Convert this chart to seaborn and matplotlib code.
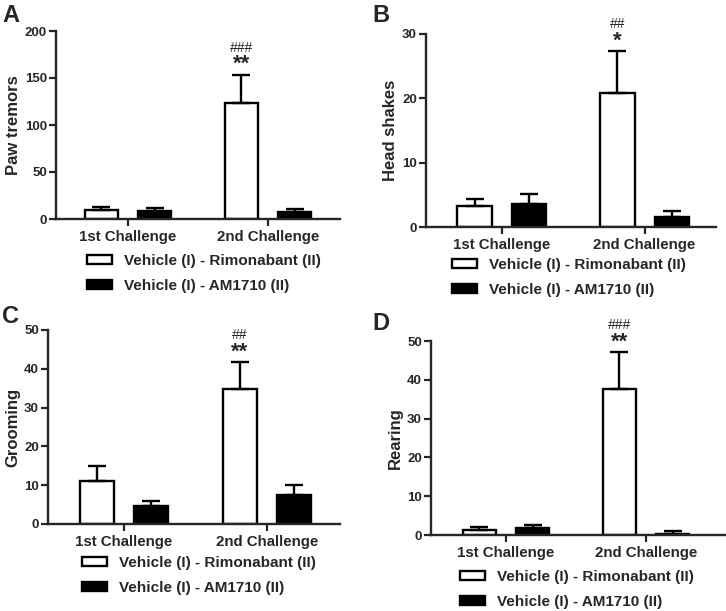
import matplotlib
matplotlib.use("Agg")
import matplotlib.pyplot as plt
import seaborn as sns
import pandas as pd
import numpy as np

categories = ["1st Challenge", "2nd Challenge"]
groups = ["Vehicle (I) - Rimonabant (II)", "Vehicle (I) - AM1710 (II)"]

paw_rim = [9.6, 123.5]
paw_rim_err = [3.2, 30.0]
paw_am = [8.5, 7.4]
paw_am_err = [3.2, 2.9]

head_rim = [3.3, 20.9]
head_rim_err = [1.1, 6.4]
head_am = [3.5, 1.5]
head_am_err = [1.6, 1.0]

groom_rim = [11.2, 34.8]
groom_rim_err = [3.8, 6.9]
groom_am = [4.7, 7.5]
groom_am_err = [1.3, 2.5]

rear_rim = [1.2, 37.6]
rear_rim_err = [0.9, 9.5]
rear_am = [1.9, 0.35]
rear_am_err = [0.8, 0.6]

sig_stars = ["**", "*", "**", "**"]
sig_hash = ["###", "##", "##", "###"]

panels = [
    ("A", "Paw tremors", paw_rim, paw_rim_err, paw_am, paw_am_err, 200, [0, 50, 100, 150, 200]),
    ("B", "Head shakes", head_rim, head_rim_err, head_am, head_am_err, 30, [0, 10, 20, 30]),
    ("C", "Grooming", groom_rim, groom_rim_err, groom_am, groom_am_err, 50, [0, 10, 20, 30, 40, 50]),
    ("D", "Rearing", rear_rim, rear_rim_err, rear_am, rear_am_err, 50, [0, 10, 20, 30, 40, 50]),
]

sns.set_style("ticks")
plt.rcParams["font.family"] = ["Liberation Sans", "DejaVu Sans"]
plt.rcParams["font.weight"] = "bold"
plt.rcParams["axes.labelweight"] = "bold"

W, H = 726, 611
fig = plt.figure(figsize=(W / 100, H / 100), dpi=100)

# axes boxes in pixels: left, right, top, bottom
boxes = [(56, 340, 31, 219), (426, 716, 34, 227), (48, 340, 330, 524), (431, 725, 341, 535)]
xlims = [(-0.514, 1.514), (-0.53, 1.50), (-0.53, 1.51), (-0.536, 1.564)]
legend_pos = [(87, 254), (452, 258), (82, 556), (460, 570)]
letter_pos = [(2, 4), (372, 4), (2, 305), (372, 312)]

palette = {groups[0]: "white", groups[1]: "black"}

for i, (letter, ylabel, rim, rim_err, am, am_err, ymax, yticks) in enumerate(panels):
    l, r, t, b = boxes[i]
    ax = fig.add_axes([l / W, 1 - b / H, (r - l) / W, (b - t) / H])
    df = pd.DataFrame({
        "challenge": categories * 2,
        "group": [groups[0]] * 2 + [groups[1]] * 2,
        "value": list(rim) + list(am),
    })
    sns.barplot(data=df, x="challenge", y="value", hue="group", order=categories,
                hue_order=groups, palette=palette, errorbar=None, width=0.76, gap=0.37,
                edgecolor="black", linewidth=1.7, ax=ax)
    errs = [rim_err, am_err]
    top_rim = None
    bar_conts = list(ax.containers)
    for k, cont in enumerate(bar_conts):
        xs = [p.get_x() + p.get_width() / 2 for p in cont.patches]
        hs = [p.get_height() for p in cont.patches]
        e = np.array(errs[k])
        ax.errorbar(xs, hs, yerr=[np.zeros_like(e), e], fmt="none", ecolor="black",
                    elinewidth=1.7, capsize=6.5, capthick=1.7, zorder=1)
        if k == 0:
            top_rim = (xs[1], hs[1] + e[1])
    # significance markers
    ax.annotate(sig_stars[i], xy=top_rim, xytext=(0, 7.5), textcoords="offset points",
                ha="center", va="center", fontsize=16, fontweight="bold",
                annotation_clip=False)
    ax.annotate(sig_hash[i], xy=top_rim, xytext=(0, 19.5), textcoords="offset points",
                ha="center", va="center", fontsize=10, fontweight="normal",
                annotation_clip=False)

    ax.set_ylim(0, ymax)
    ax.set_xlim(*xlims[i])
    ax.set_yticks(yticks)
    ax.set_xlabel("")
    ax.set_ylabel(ylabel, fontsize=12, fontweight="bold", labelpad=3)
    ax.tick_params(axis="y", labelsize=9.5, width=1.6, length=5, pad=1.5)
    ax.tick_params(axis="x", labelsize=10.8, width=1.6, length=5, pad=3)
    for lab in ax.get_xticklabels() + ax.get_yticklabels():
        lab.set_fontweight("bold")
    sns.despine(ax=ax)
    for s in ["left", "bottom"]:
        ax.spines[s].set_linewidth(1.7)

    lx, ly = legend_pos[i]
    sns.move_legend(ax, "upper left", bbox_to_anchor=(lx / W, 1 - ly / H),
                    bbox_transform=fig.transFigure, frameon=False, title=None,
                    fontsize=11, borderpad=0, borderaxespad=0, handlelength=1.65,
                    handleheight=0.55, handletextpad=0.75, labelspacing=0.7)
    for txt in ax.get_legend().get_texts():
        txt.set_fontweight("bold")

    fx, fy = letter_pos[i]
    fig.text(fx / W, 1 - fy / H, letter, fontsize=17, fontweight="bold", ha="left", va="top")

fig.savefig("out.png", dpi=100)
